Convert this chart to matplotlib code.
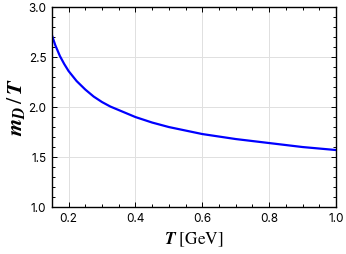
import matplotlib
matplotlib.use("Agg")
import matplotlib.pyplot as plt
from matplotlib.ticker import MultipleLocator

T = [0.15, 0.16, 0.174, 0.187, 0.2, 0.224, 0.25, 0.275, 0.3, 0.325, 0.35, 0.4, 0.45, 0.5, 0.6, 0.7, 0.8, 0.9, 1.0]
mD_over_T = [2.72, 2.62, 2.51, 2.43, 2.36, 2.26, 2.175, 2.105, 2.05, 2.005, 1.97, 1.90, 1.845, 1.80, 1.73, 1.68, 1.64, 1.60, 1.57]

plt.rcParams['mathtext.fontset'] = 'stix'
plt.rcParams['font.family'] = ['Inter', 'DejaVu Sans']

fig = plt.figure(figsize=(3.46, 2.54), dpi=100)
ax = fig.add_axes([0.150, 0.185, 0.821, 0.787])
ax.plot(T, mD_over_T, color='#0000ff', lw=1.6, solid_joinstyle='round')
ax.set_xlim(0.15, 1.0)
ax.set_ylim(1.0, 3.0)
ax.xaxis.set_major_locator(MultipleLocator(0.2))
ax.xaxis.set_minor_locator(MultipleLocator(0.05))
ax.yaxis.set_major_locator(MultipleLocator(0.5))
ax.yaxis.set_minor_locator(MultipleLocator(0.1))
ax.grid(True, which='major', color='#e0e0e0', lw=0.7)
ax.tick_params(which='both', direction='in', top=True, right=True, labelsize=8.5, width=0.7)
ax.tick_params(which='major', length=3.5, pad=4)
ax.tick_params(which='minor', length=2)
for s in ax.spines.values():
    s.set_linewidth(1.0)
ax.set_xlabel(r'$\mathbfit{T}\ [\mathrm{GeV}]$', fontsize=12.5, labelpad=4)
ax.set_ylabel(r'$\mathbfit{m}_{\mathbfit{D}}\,/\,\mathbfit{T}$', fontsize=16, labelpad=1)
fig.savefig('out.png', dpi=100)
